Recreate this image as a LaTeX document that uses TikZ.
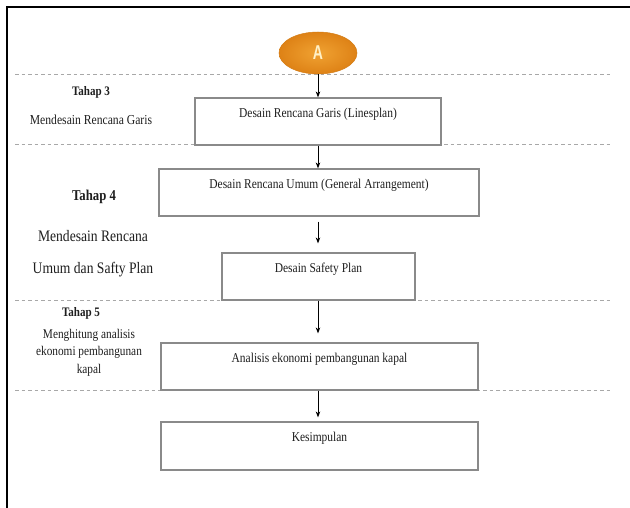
\documentclass[tikz,border=0pt]{standalone}
\usepackage{fontspec}
\setmainfont{Liberation Serif}[FakeStretch=0.85]
\newfontfamily\afont{Liberation Sans}[FakeStretch=0.7]
\usetikzlibrary{arrows.meta,shapes.geometric,calc}
\definecolor{boxgray}{HTML}{8A8A8A}
\definecolor{sepgray}{HTML}{A8A8A8}
\definecolor{textc}{HTML}{1E1E1E}
\definecolor{orOuter}{HTML}{DE8216}
\definecolor{orInner}{HTML}{F0A232}
\definecolor{orEdge}{HTML}{D47C14}
\definecolor{aText}{HTML}{FFF1C8}
\begin{document}
\begin{tikzpicture}[x=1pt,y=-1pt,
  frame/.style={draw=black, line width=1.6pt},
  sep/.style={draw=sepgray, line width=1pt, dash pattern=on 3.5pt off 3pt},
  stepbox/.style={draw=boxgray, line width=1.2pt, fill=white, rectangle, inner sep=0pt},
  boxtext/.style={font=\fontsize{13.5}{16}\selectfont, text=textc, inner sep=0pt},
  sidetext/.style={text=textc, inner sep=0pt, align=center},
  flow/.style={-{Stealth[length=6pt,width=4.5pt]}, line width=0.8pt, draw=black}
]
\useasboundingbox (0,0) rectangle (630,508);
\fill[white] (0,0) rectangle (630,508);
% outer frame (top and left edges)
\draw[frame] (630,7) -- (7,7) -- (7,508);
% separators
\draw[sep] (15,75) -- (613,75);
\draw[sep] (15,145) -- (613,145);
\draw[sep] (15,300) -- (613,300);
\draw[sep] (15,390) -- (613,390);
% connector A
\node[ellipse, minimum width=78pt, minimum height=42pt, inner sep=0pt,
      draw=orEdge, line width=0.5pt, inner color=orInner, outer color=orOuter,
      font=\afont\bfseries\fontsize{20}{20}\selectfont, text=aText] (A) at (318,53) {A};
% boxes
\node[stepbox, minimum width=246pt, minimum height=47pt] (b1) at (318,121.5) {};
\node[stepbox, minimum width=320pt, minimum height=47pt] (b2) at (319,192.5) {};
\node[stepbox, minimum width=193pt, minimum height=47pt] (b3) at (318.5,276.5) {};
\node[stepbox, minimum width=317pt, minimum height=47pt] (b4) at (319.5,366.5) {};
\node[stepbox, minimum width=317pt, minimum height=48pt] (b5) at (319.5,446) {};
% box texts
\node[boxtext] (t1) at ($(b1.north)+(0,17)$) {Desain Rencana Garis (Linesplan)};
\node[boxtext] (t2) at ($(b2.north)+(0,17)$) {Desain Rencana Umum (General Arrangement)};
\node[boxtext] (t3) at ($(b3.north)+(0,17)$) {Desain Safety Plan};
\node[boxtext] (t4) at ($(b4.north)+(0,17)$) {Analisis ekonomi pembangunan kapal};
\node[boxtext] (t5) at ($(b5.north)+(0,16.5)$) {Kesimpulan};
% side texts
\node[sidetext, font=\bfseries\fontsize{13}{14}\selectfont] (s3) at (91,92) {Tahap 3};
\node[sidetext, font=\fontsize{13.7}{16}\selectfont] (d3) at (91,120) {Mendesain Rencana Garis};
\node[sidetext, font=\bfseries\fontsize{15}{17}\selectfont] (s4) at (94,197) {Tahap 4};
\node[sidetext, font=\fontsize{16}{32}\selectfont] (d4) at (93,254) {Mendesain Rencana\\Umum dan Safty Plan};
\node[sidetext, font=\bfseries\fontsize{13}{14}\selectfont] (s5) at (81,313) {Tahap 5};
\node[sidetext, font=\fontsize{13.3}{17.5}\selectfont] (d5) at (89,352.5) {Menghitung analisis\\ekonomi pembangunan\\kapal};
% arrows (vertical, on the axis x = 318)
\draw[flow] (A.south) -- (A.south |- b1.north);
\draw[flow] (A.south |- b1.south) -- (A.south |- b2.north);
\draw[flow, shorten <=5pt, shorten >=9pt] (A.south |- b2.south) -- (A.south |- b3.north);
\draw[flow, shorten >=9pt] (A.south |- b3.south) -- (A.south |- b4.north);
\draw[flow, shorten >=4pt] (A.south |- b4.south) -- (A.south |- b5.north);
\end{tikzpicture}
\end{document}
